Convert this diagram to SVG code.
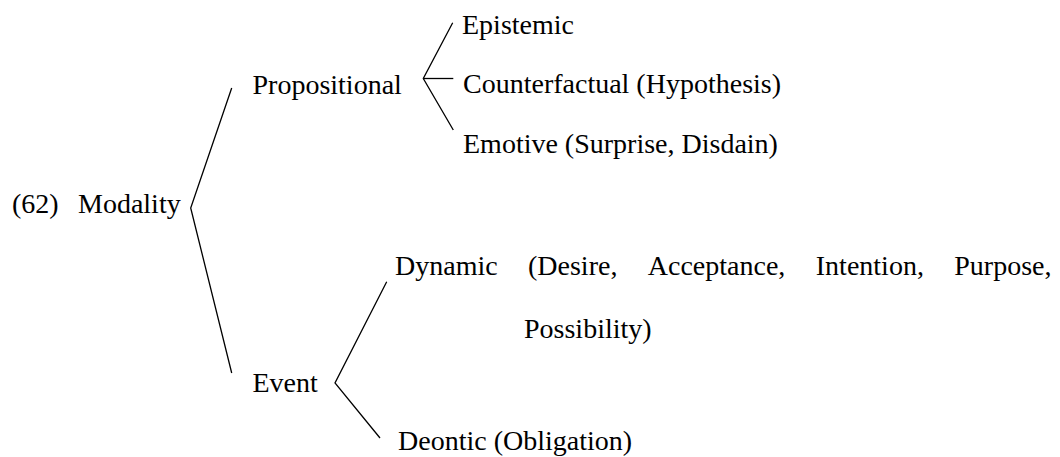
<svg xmlns="http://www.w3.org/2000/svg" width="1060" height="457" viewBox="0 0 1060 457">
<style>
text { font-family: "Liberation Serif", "Times New Roman", serif; font-size: 28px; fill: #000; }
.br { fill: none; stroke: #000; stroke-width: 1.3; }
</style>
<rect width="1060" height="457" fill="#fff"/>
<g id="connectors">
<polyline class="br" points="231.7,88 190.7,208 231.7,373"/>
<polyline class="br" points="452.7,22.7 423.3,78.5 453.3,130"/>
<line class="br" x1="423.3" y1="78.5" x2="453.3" y2="78.5"/>
<polyline class="br" points="386.7,281.7 335,383 380,438"/>
</g>
<g id="label-62"><text x="12" y="213">(62)</text></g>
<g id="node-modality"><text x="78" y="213">Modality</text></g>
<g id="node-propositional"><text x="252.5" y="94">Propositional</text></g>
<g id="node-event"><text x="252.5" y="392">Event</text></g>
<g id="node-epistemic"><text x="462" y="34">Epistemic</text></g>
<g id="node-counterfactual"><text x="463" y="93">Counterfactual (Hypothesis)</text></g>
<g id="node-emotive"><text x="463" y="153">Emotive (Surprise, Disdain)</text></g>
<g id="node-dynamic">
<text y="275"><tspan x="395">Dynamic</tspan><tspan x="528">(Desire,</tspan><tspan x="647.8">Acceptance,</tspan><tspan x="815.8">Intention,</tspan><tspan x="954.3">Purpose,</tspan></text>
<text x="524" y="338">Possibility)</text>
</g>
<g id="node-deontic"><text x="398" y="450">Deontic (Obligation)</text></g>
</svg>
